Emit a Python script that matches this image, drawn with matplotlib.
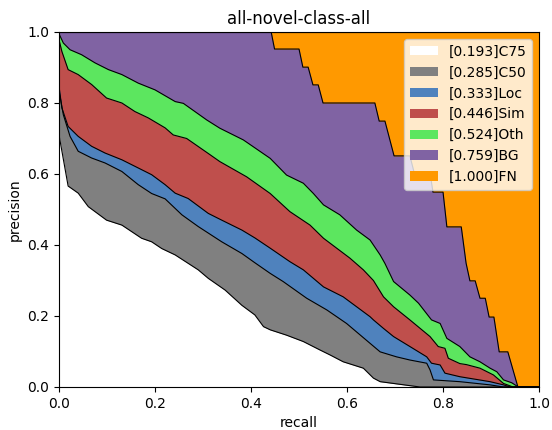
import matplotlib
matplotlib.use("Agg")
from matplotlib import pyplot as plt

# curve points (recall, precision)
c75_r = [0, 0.019, 0.04, 0.061, 0.099, 0.131, 0.172, 0.193, 0.214, 0.242, 0.29, 0.311,
         0.346, 0.381, 0.408, 0.426, 0.44, 0.474, 0.509, 0.544, 0.565, 0.592, 0.634, 0.655,
         0.669, 0.752, 1.0]
c75_p = [0.71, 0.566, 0.546, 0.508, 0.47, 0.456, 0.419, 0.409, 0.39, 0.372, 0.33, 0.306,
         0.273, 0.23, 0.203, 0.17, 0.161, 0.146, 0.128, 0.104, 0.09, 0.071, 0.053, 0.025,
         0.015, 0.0, 0.0]

c50_r = [0, 0.009, 0.023, 0.04, 0.068, 0.096, 0.131, 0.165, 0.193, 0.221, 0.256, 0.29,
         0.339, 0.381, 0.408, 0.44, 0.467, 0.516, 0.558, 0.599, 0.648, 0.669, 0.703,
         0.731, 0.766, 0.773, 0.78, 0.835, 0.898, 0.926, 1.0]
c50_p = [0.835, 0.767, 0.706, 0.664, 0.645, 0.631, 0.607, 0.57, 0.545, 0.53, 0.485, 0.452,
         0.409, 0.376, 0.35, 0.32, 0.297, 0.25, 0.217, 0.179, 0.123, 0.099, 0.085,
         0.076, 0.067, 0.048, 0.02, 0.015, 0.006, 0.0, 0.0]

loc_r = [0, 0.006, 0.019, 0.04, 0.068, 0.096, 0.131, 0.165, 0.193, 0.221, 0.242, 0.269,
         0.311, 0.339, 0.381, 0.408, 0.44, 0.481, 0.509, 0.551, 0.592, 0.648, 0.655, 0.676,
         0.697, 0.731, 0.766, 0.776, 0.794, 0.804, 0.835, 0.898, 0.926, 0.94, 1.0]
loc_p = [0.847, 0.786, 0.734, 0.706, 0.678, 0.659, 0.64, 0.617, 0.598, 0.57, 0.546, 0.531,
         0.489, 0.47, 0.442, 0.42, 0.391, 0.353, 0.33, 0.282, 0.254, 0.198, 0.189, 0.165,
         0.142, 0.114, 0.085, 0.067, 0.062, 0.039, 0.029, 0.015, 0.006, 0.0, 0.0]

sim_r = [0, 0.006, 0.019, 0.04, 0.068, 0.099, 0.131, 0.158, 0.186, 0.221, 0.238, 0.266,
         0.315, 0.335, 0.391, 0.44, 0.481, 0.523, 0.551, 0.606, 0.634, 0.655, 0.676, 0.697,
         0.731, 0.773, 0.79, 0.804, 0.811, 0.835, 0.849, 0.877, 0.905, 0.926, 0.946, 1.0]
sim_p = [0.978, 0.945, 0.894, 0.88, 0.852, 0.814, 0.80, 0.776, 0.758, 0.73, 0.71, 0.70,
         0.654, 0.635, 0.592, 0.545, 0.494, 0.456, 0.419, 0.363, 0.33, 0.30, 0.254, 0.226,
         0.189, 0.142, 0.114, 0.109, 0.081, 0.066, 0.063, 0.053, 0.034, 0.01, 0.0, 0.0]

oth_r = [0, 0.009, 0.023, 0.047, 0.075, 0.103, 0.131, 0.165, 0.2, 0.242, 0.259, 0.308,
         0.335, 0.384, 0.44, 0.474, 0.509, 0.53, 0.551, 0.585, 0.62, 0.648, 0.669, 0.679,
         0.697, 0.731, 0.749, 0.776, 0.794, 0.808, 0.835, 0.856, 0.877, 0.898, 0.912, 0.926,
         0.943, 0.957, 1.0]
oth_p = [0.995, 0.969, 0.95, 0.936, 0.913, 0.894, 0.88, 0.856, 0.837, 0.804, 0.799, 0.752,
         0.729, 0.696, 0.644, 0.597, 0.574, 0.545, 0.513, 0.485, 0.442, 0.414, 0.372, 0.348,
         0.297, 0.259, 0.236, 0.189, 0.179, 0.137, 0.114, 0.085, 0.071, 0.053, 0.043, 0.02,
         0.012, 0.0, 0.0]

bg_r = [0, 0.442, 0.449, 0.5, 0.508, 0.519, 0.529, 0.54, 0.55, 0.658, 0.667, 0.679, 0.698,
        0.731, 0.74, 0.773, 0.779, 0.8, 0.808, 0.838, 0.848, 0.856, 0.867, 0.877, 0.888,
        0.896, 0.906, 0.917, 0.935, 0.956, 1.0]
bg_p = [1, 1, 0.952, 0.952, 0.901, 0.901, 0.851, 0.851, 0.8, 0.8, 0.749, 0.749, 0.651,
        0.651, 0.603, 0.603, 0.549, 0.549, 0.451, 0.451, 0.349, 0.299, 0.299, 0.25, 0.25,
        0.197, 0.197, 0.099, 0.099, 0.0, 0.0]

fn_r = [0, 1.0]
fn_p = [1.0, 1.0]

labels = ["C75", "C50", "Loc", "Sim", "Oth", "BG", "FN"]
aps = [0.193, 0.285, 0.333, 0.446, 0.524, 0.759, 1.000]
colors = ["#ffffff", "#808080", "#4f82bd", "#bf4f4c", "#5ce65f", "#8063a3", "#ff9900"]

curves = [(c75_r, c75_p), (c50_r, c50_p), (loc_r, loc_p), (sim_r, sim_p),
          (oth_r, oth_p), (bg_r, bg_p), (fn_r, fn_p)]

fig, ax = plt.subplots(figsize=(5.52, 4.30), dpi=100)
fig.subplots_adjust(left=0.1069, right=0.9765, top=0.9256, bottom=0.1)

handles = []
# paint the biggest area first, smaller ones on top
for k in reversed(range(len(curves))):
    rs, ps = curves[k]
    h = ax.fill_between(rs, ps, 0, color=colors[k], linewidth=0,
                        label="[{:.3f}]{}".format(aps[k], labels[k]))
    handles.insert(0, h)
for rs, ps in curves:
    ax.plot(rs, ps, color="black", linewidth=0.8)

ax.set_xlim(0, 1)
ax.set_ylim(0, 1)
plt.xlabel("recall")
plt.ylabel("precision")
plt.title("all-novel-class-all")
ax.legend(handles=handles, loc="upper right")
plt.savefig("out.png", dpi=100)
